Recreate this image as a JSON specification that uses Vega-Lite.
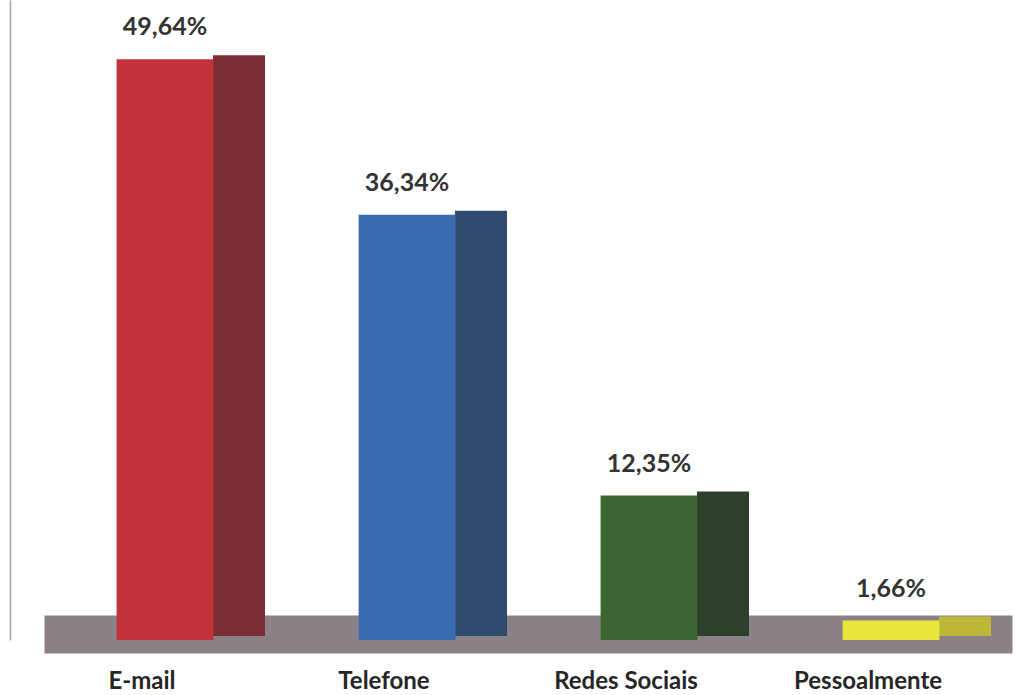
{
  "$schema": "https://vega.github.io/schema/vega-lite/v6.json",
  "width": 968,
  "height": 640,
  "autosize": {"type": "none"},
  "padding": {"left": 44, "top": 0, "right": 23, "bottom": 55},
  "background": "white",
  "config": {"view": {"stroke": null}, "font": "Lato"},
  "data": {
    "values": [
      {"canal": "E-mail", "pct": 49.64},
      {"canal": "Telefone", "pct": 36.34},
      {"canal": "Redes Sociais", "pct": 12.35},
      {"canal": "Pessoalmente", "pct": 1.66}
    ]
  },
  "transform": [
    {"calculate": "replace(format(datum.pct, '.2f'), '.', ',') + '%'", "as": "rotulo"}
  ],
  "encoding": {
    "x": {
      "field": "canal",
      "type": "nominal",
      "sort": null,
      "scale": {"paddingInner": 0.6, "paddingOuter": 0.3},
      "axis": {
        "title": null,
        "ticks": false,
        "labelAngle": 0,
        "labelFont": "Lato",
        "labelFontSize": 24,
        "labelFontWeight": "bold",
        "labelColor": "#262626",
        "labelPadding": 35,
        "labelOffset": -23,
        "domainColor": "#8a8286",
        "domainWidth": 38,
        "domainCap": "butt",
        "offset": -6,
        "zindex": 0
      }
    },
    "y": {
      "field": "pct",
      "type": "quantitative",
      "scale": {"domain": [0, 54.7], "nice": false},
      "axis": {
        "title": null,
        "labels": false,
        "ticks": false,
        "grid": false,
        "domainColor": "#a6a6a6",
        "domainWidth": 1.5,
        "offset": 34,
        "zindex": 0
      }
    }
  },
  "layer": [
    {
      "mark": {"type": "bar", "width": 52, "xOffset": 74, "yOffset": -4},
      "encoding": {
        "color": {
          "field": "canal",
          "type": "nominal",
          "sort": null,
          "legend": null,
          "scale": {
            "domain": ["E-mail", "Telefone", "Redes Sociais", "Pessoalmente"],
            "range": ["#7a2d33", "#2f4a6c", "#2e3f2b", "#bdb73a"]
          }
        }
      }
    },
    {
      "mark": {"type": "bar"},
      "encoding": {
        "fill": {
          "field": "canal",
          "type": "nominal",
          "sort": null,
          "legend": null,
          "scale": {
            "domain": ["E-mail", "Telefone", "Redes Sociais", "Pessoalmente"],
            "range": ["#c2323b", "#3a6db0", "#3c6531", "#e9e53c"]
          }
        }
      }
    },
    {
      "mark": {
        "type": "text",
        "baseline": "bottom",
        "dy": -19,
        "font": "Lato",
        "fontSize": 25,
        "fontWeight": "bold",
        "color": "#333333"
      },
      "encoding": {"text": {"field": "rotulo"}}
    }
  ],
  "resolve": {"scale": {"color": "independent", "fill": "independent"}}
}
